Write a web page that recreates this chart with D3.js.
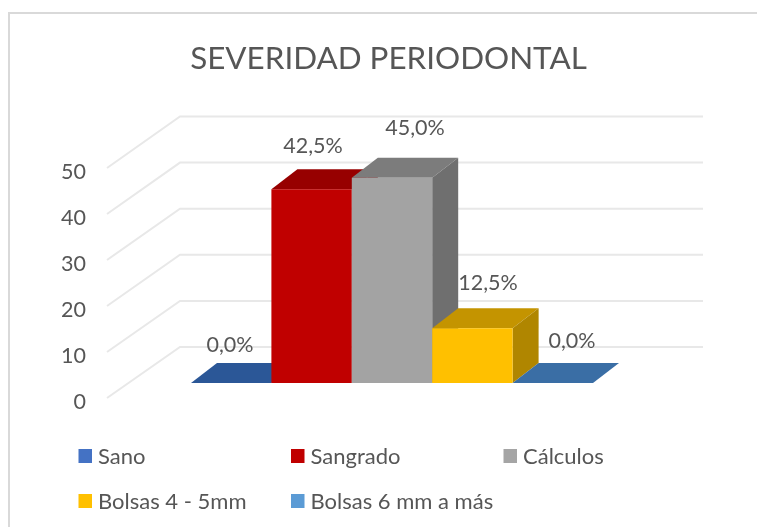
<!DOCTYPE html>
<html><head><meta charset="utf-8">
<style>html,body{margin:0;padding:0;background:#fff}svg{display:block;filter:blur(0.4px)}text{font-family:Lato,"Open Sans",sans-serif;fill:#565656}</style>
<script src="https://cdn.jsdelivr.net/npm/d3@7/dist/d3.min.js"></script></head><body>
<svg id="c" width="757" height="527"></svg>
<script>
const title = "SEVERIDAD PERIODONTAL";
const categories = ["Sano","Sangrado","Cálculos","Bolsas 4 - 5mm","Bolsas 6 mm a más"];
const values = [0,42.5,45,12.5,0];
const valueLabels = ["0,0%","42,5%","45,0%","12,5%","0,0%"];
const ticks = [0,10,20,30,40,50];
const frontColors = ["#2f5597","#c00000","#a3a3a3","#ffc000","#2e6da4"];
const topColors = ["#2b5797","#970000","#7c7c7c","#c49400","#3a6ea5"];
const sideColors = ["#2b5797","#970000","#6f6f6f","#b08600","#3a6ea5"];
const legendColors = ["#4472c4","#c00000","#a5a5a5","#ffc000","#5b9bd5"];

const svg = d3.select("#c");
svg.append("path").attr("d","M9,527V13H757").attr("fill","none").attr("stroke","#d9d9d9").attr("stroke-width",2);
svg.append("text").attr("x",388.5).attr("y",68.5).attr("text-anchor","middle")
  .attr("font-size",31.4).text(title);

const yFront = d3.scaleLinear().domain([0,50]).range([398,168]);
const yBack = d3.scaleLinear().domain([0,50]).range([347,116.5]);
const yBar = d3.scaleLinear().domain([0,50]).range([386,154.5]);
const floorY = 383;
const xBand = d3.scaleBand().domain(categories).range([191,593]);
const depthX = 26, depthY = -20;

const grid = svg.append("g").attr("fill","none").attr("stroke","#e8e8e8").attr("stroke-width",2);
ticks.forEach(t=>{
  grid.append("path").attr("d",d3.line()([[107,yFront(t)],[180,yBack(t)],[703,yBack(t)]]));
});
svg.append("g").selectAll("text").data(ticks).join("text")
  .attr("x",86).attr("y",d=>yFront(d)+11).attr("text-anchor","end").attr("font-size",21.5).text(d=>d);

const poly = (p,f)=>svg.append("polygon").attr("points",p.map(q=>q.join(",")).join(" ")).attr("fill",f);
categories.forEach((c,i)=>{
  const x0=xBand(c), x1=x0+xBand.bandwidth(), yb=floorY, yt=values[i]>0?yBar(values[i]):floorY;
  poly([[x0,yt],[x1,yt],[x1+depthX,yt+depthY],[x0+depthX,yt+depthY]],topColors[i]);
  if(values[i]>0){
    poly([[x1,yb],[x1,yt],[x1+depthX,yt+depthY],[x1+depthX,yb+depthY]],sideColors[i]);
    poly([[x0,yt],[x1,yt],[x1,yb],[x0,yb]],frontColors[i]);
  }
});
const labelPos = [[230,352],[313,153],[415,135],[488,290],[572,348]];
svg.append("g").selectAll("text").data(valueLabels).join("text")
  .attr("x",(d,i)=>labelPos[i][0]).attr("y",(d,i)=>labelPos[i][1])
  .attr("text-anchor","middle").attr("font-size",21.5).text(d=>d);

const legendPos = [[78.5,449],[291,449],[503.5,449],[78.5,494],[291,494]];
const lg = svg.append("g").selectAll("g").data(categories).join("g")
  .attr("transform",(d,i)=>`translate(${legendPos[i][0]},${legendPos[i][1]})`);
lg.append("rect").attr("width",13.5).attr("height",14).attr("fill",(d,i)=>legendColors[i]);
lg.append("text").attr("x",19.5).attr("y",14.5).attr("font-size",22).text(d=>d);
</script></body></html>
